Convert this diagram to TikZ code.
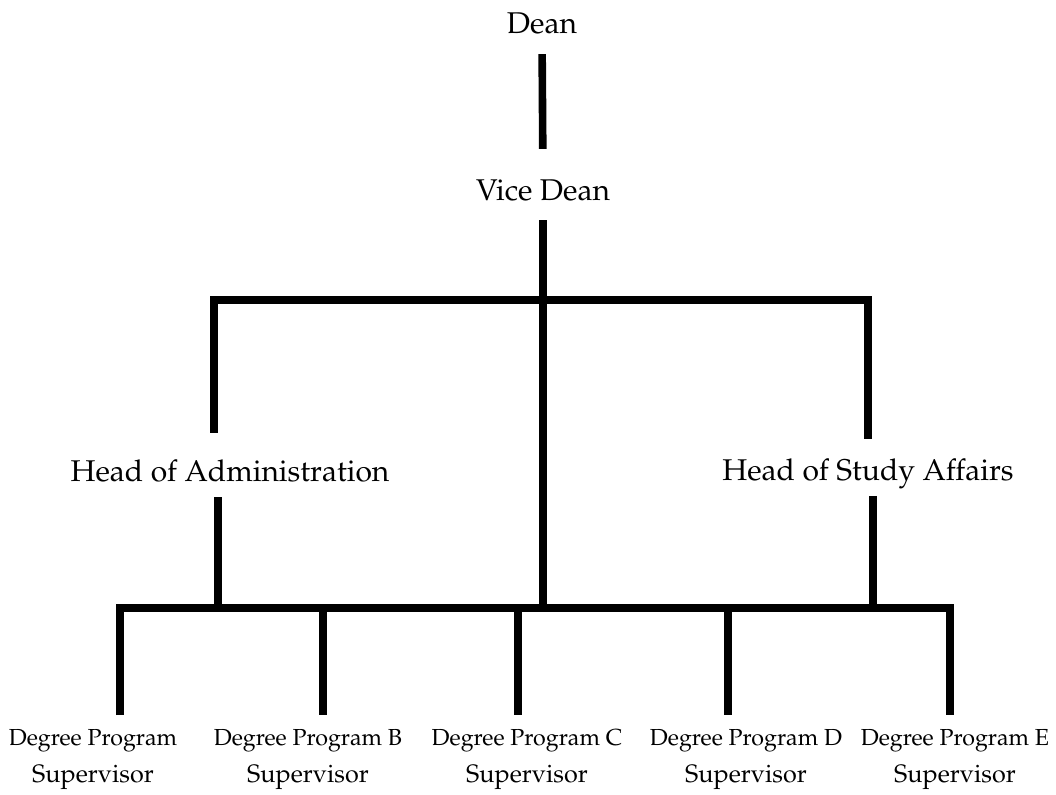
\documentclass[tikz,border=0pt]{standalone}
\usepackage[T1]{fontenc}
\usepackage{mathpazo}
\usepackage{tikz}
\usetikzlibrary{calc}
\newcommand{\progname}[1]{{\fontsize{11.6}{18.5}\selectfont #1}}

\begin{document}
\begin{tikzpicture}[x=0.5pt, y=-0.5pt]
	\tikzset{
		role/.style={font=\fontsize{15}{18}\selectfont, inner sep=0pt, anchor=base},
		prog/.style={font=\fontsize{12.6}{18.5}\selectfont, inner sep=0pt, align=center, anchor=north},
		conn/.style={line width=3.8pt}
	}
	\useasboundingbox (0,0) rectangle (1056,794);
	% people
	\node[role] (dean) at (542,33) {Dean};
	\node[role] (vice) at (543,200) {Vice Dean};
	\node[role] (headadm) at (230,481) {Head of Administration};
	\node[role] (headstudy) at (868,480) {Head of Study Affairs};
	\node[prog] (progA) at (93,729) {\progname{Degree Program}\\Supervisor};
	\node[prog] (progB) at (308,729) {\progname{Degree Program B}\\Supervisor};
	\node[prog] (progC) at (527,729) {\progname{Degree Program C}\\Supervisor};
	\node[prog] (progD) at (746,729) {\progname{Degree Program D}\\Supervisor};
	\node[prog] (progE) at (955,729) {\progname{Degree Program E}\\Supervisor};
	% junctions
	\coordinate (topbar) at (543,300);
	\coordinate (botbar) at (545,608);
	\coordinate (admtop) at ([xshift=-8pt]headadm.north);
	\coordinate (admbot) at ([xshift=-6pt]headadm.south);
	\coordinate (studytop) at (headstudy.north);
	\coordinate (studybot) at ([xshift=2.5pt]headstudy.south);
	\foreach \n/\x in {A/120,B/323,C/518,D/728,E/950}
		\coordinate (drop\n) at (\x,0 |- prog\n.north);
	% lines
	\draw[conn, shorten <=10pt, shorten >=15pt] (dean.south) -- (vice.north);
	\draw[conn, shorten <=9.5pt] (vice.south) -- (vice.south |- topbar);
	\draw[conn, shorten <=13pt, shorten >=9.5pt] (admtop) -- (admtop |- topbar) -- (studytop |- topbar) -- (studytop);
	\draw[conn] (topbar) -- (topbar |- botbar);
	\draw[conn, shorten <=7.5pt] (admbot) -- (admbot |- botbar);
	\draw[conn, shorten <=3.5pt] (studybot) -- (studybot |- botbar);
	\draw[conn, shorten <=7pt, shorten >=7pt] (dropA) -- (dropA |- botbar) -- (dropE |- botbar) -- (dropE);
	\foreach \n in {B,C,D}
		\draw[conn, shorten >=7pt] (drop\n |- botbar) -- (drop\n);
\end{tikzpicture}
\end{document}
